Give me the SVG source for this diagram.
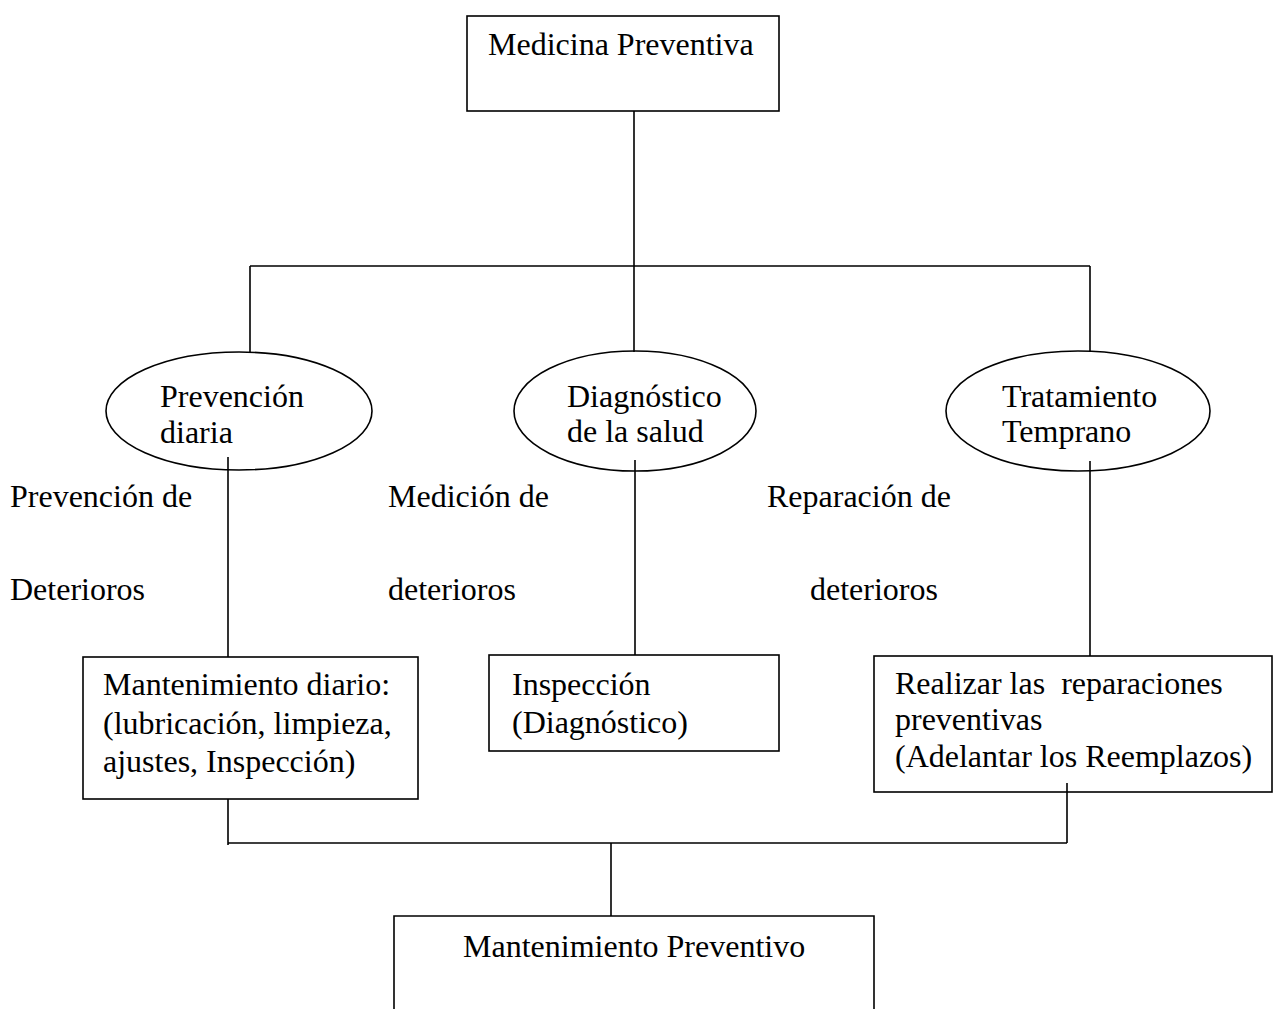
<svg xmlns="http://www.w3.org/2000/svg" width="1273" height="1009" viewBox="0 0 1273 1009">
<style>
.n{fill:#fff;stroke:#000;stroke-width:1.6}
.c{fill:none;stroke:#000;stroke-width:1.6}
text{font-family:"Liberation Serif","Times New Roman",serif;font-size:32px;fill:#000}
</style>
<rect width="1273" height="1009" fill="#fff"/>
<g id="medicina">
<rect class="n" x="467" y="16" width="312" height="95"/>
<text x="488" y="55">Medicina Preventiva</text>
</g>
<g id="prevencion">
<ellipse class="n" cx="239" cy="411" rx="133" ry="59"/>
<text x="160" y="407">Prevención</text>
<text x="160" y="443">diaria</text>
</g>
<g id="diagnostico">
<ellipse class="n" cx="635" cy="411" rx="121" ry="60"/>
<text x="567" y="407">Diagnóstico</text>
<text x="567" y="442">de la salud</text>
</g>
<g id="tratamiento">
<ellipse class="n" cx="1078" cy="411" rx="132" ry="60"/>
<text x="1002" y="407">Tratamiento</text>
<text x="1002" y="442">Temprano</text>
</g>
<g id="labels">
<text x="10" y="507">Prevención de</text>
<text x="10" y="600">Deterioros</text>
<text x="388" y="507">Medición de</text>
<text x="388" y="600">deterioros</text>
<text x="767" y="507">Reparación de</text>
<text x="810" y="600">deterioros</text>
</g>
<g id="mant-diario">
<rect class="n" x="83" y="657" width="335" height="142"/>
<text x="103" y="695">Mantenimiento diario:</text>
<text x="103" y="734">(lubricación, limpieza,</text>
<text x="103" y="772">ajustes, Inspección)</text>
</g>
<g id="inspeccion">
<rect class="n" x="489" y="655" width="290" height="96"/>
<text x="512" y="695">Inspección</text>
<text x="512" y="733">(Diagnóstico)</text>
</g>
<g id="reparaciones">
<rect class="n" x="874" y="656" width="398" height="136"/>
<text x="895" y="694" xml:space="preserve">Realizar las  reparaciones</text>
<text x="895" y="730">preventivas</text>
<text x="895" y="767">(Adelantar los Reemplazos)</text>
</g>
<g id="mant-preventivo">
<path class="n" d="M394 1010V916H874V1010"/>
<text x="463" y="957">Mantenimiento Preventivo</text>
</g>
<g id="connectors">
<path class="c" d="M634 111V352M250 266H1090M250 266V352M1090 266V352"/>
<path class="c" d="M228 457V657M635 460V655M1090 461V656"/>
<path class="c" d="M228 799V845M228 843H1067M1067 783V843M611 843V916"/>
</g>
</svg>
